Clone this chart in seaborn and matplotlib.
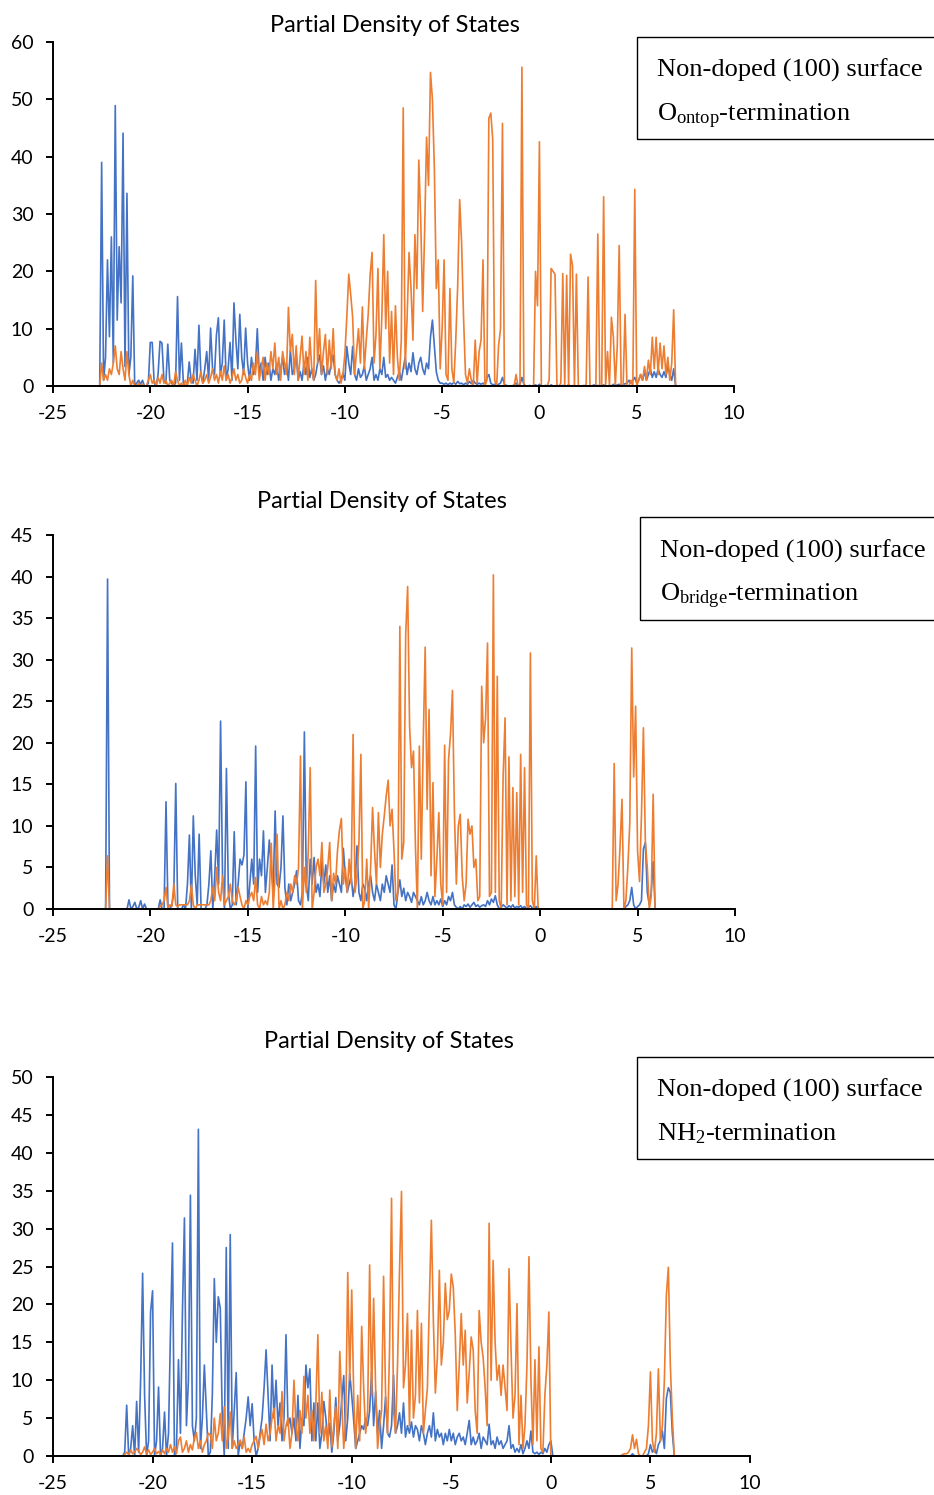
import numpy as np
import pandas as pd
import matplotlib
matplotlib.use("Agg")
import matplotlib.pyplot as plt
from matplotlib.patches import Rectangle
import seaborn as sns

# ---------------------------------------------------------------------------
# Partial density of states, sampled every 0.1 eV from each series' start
# energy.  "blue" and "orange" are the two projected components.
# ---------------------------------------------------------------------------
STEP = 0.1

# Panel 1: non-doped (100) surface, O(ontop) termination
P1_START = -22.6
P1_BLUE = [
    0, 39, 1, 5, 22, 8.6,                                   # -22.6 .. -22.1
    26, 4, 48.9, 11.5, 24.3, 14.5, 44.1, 3.4, 33.6, 2,      # -22.0 ..
    5, 19.2, 0, 0.5, 1, 0.3, 1, 0, 0, 0.5,                  # -21.0 ..
    7.6, 7.6, 0.5, 0, 2, 7.8, 7.5, 1, 0.5, 7.3,             # -20.0 ..
    1, 0.5, 0, 0.5, 15.6, 1, 7.5, 0.5, 0, 0.3,              # -19.0 ..
    4.2, 1, 0.5, 6.4, 1, 10.6, 2, 0.5, 3, 6,                # -18.0 ..
    1, 10.1, 3, 2, 8.9, 11.9, 2, 4, 11.5, 1,                # -17.0 ..
    3, 7.6, 1, 14.5, 8, 3, 12.5, 5, 2, 10.1,                # -16.0 ..
    4, 1, 5, 2, 3, 10, 2, 4, 1, 5,                          # -15.0 ..
    2, 4, 1, 3, 2, 4, 1, 3, 5, 2,                           # -14.0 ..
    4, 1, 6.3, 2, 3, 5.5, 1, 2.5, 1, 4,                     # -13.0 ..
    2, 5, 1.5, 3, 1, 2, 4, 5.4, 2, 3.5,                     # -12.0 ..
    1, 3, 2, 4, 5.4, 2, 1, 0.5, 1, 2.2,                     # -11.0 ..
    1, 6.9, 4, 2, 6.9, 2, 1, 3, 1.5, 2,                     # -10.0 ..
    3.5, 1, 2, 3, 5, 1, 2, 1, 3, 2,                         # -9.0 ..
    5, 1.5, 2, 1, 1.5, 1, 0.5, 1.5, 2.5, 1,                 # -8.0 ..
    3, 5, 2, 4, 2.5, 5.8, 3, 2, 4, 5,                       # -7.0 ..
    3, 2, 4, 3, 8.5, 11.5, 7, 2.5, 1, 0.5,                  # -6.0 ..
    0.5, 0.3, 0.5, 0.2, 0.5, 0.3, 0.6, 0.3, 0.8, 0.4,       # -5.0 ..
    0.5, 0.2, 0.5, 0.3, 0.8, 0.4, 1, 0.5, 0.3, 0.5,         # -4.0 ..
    0.3, 0.5, 0.2, 1.5, 2, 0.5, 0.2, 0.3, 0.1, 0.3,         # -3.0 ..
    0.5, 1.5, 0.3, 0.1, 0, 0, 0, 0.2, 0.5, 0.1,             # -2.0 ..
    0.3, 1.5, 0.3, 0, 0, 0.1, 0, 0, 0.2, 0,                 # -1.0 ..
    0.3, 0, 0, 0.1, 0, 0, 0.2, 0, 0, 0.1,                   # 0.0 ..
    0, 0, 0.1, 0, 0, 0.2, 0, 0, 0.1, 0,                     # 1.0 ..
    0, 0, 0, 0.1, 0, 0, 0, 0, 0.2, 0,                       # 2.0 ..
    0.1, 0, 0, 0.2, 0, 0, 0.1, 0, 0.3, 0,                   # 3.0 ..
    0.2, 0.3, 0, 0.2, 0.4, 0.5, 1, 0.5, 1, 1.5,             # 4.0 ..
    0.5, 1, 2, 1, 2.5, 1, 2, 3, 1.5, 2.5,                   # 5.0 ..
    1.5, 3, 2, 1.5, 2.5, 1.5, 3.5, 2, 1, 3,                 # 6.0 ..
    0,                                                      # 7.0
]
P1_ORANGE = [
    0, 4, 1, 2, 1, 3,                                       # -22.6 .. -22.1
    2, 4, 7, 3, 2, 6, 3, 1, 6, 2,                           # -22.0 ..
    0, 1, 0, 0, 0.5, 0, 0.3, 0, 0, 1,                       # -21.0 ..
    2, 0.5, 1, 0, 1.5, 0.5, 2, 0.5, 1, 0,                   # -20.0 ..
    0.5, 1, 0, 2.5, 1, 0, 0.5, 0, 1, 0,                     # -19.0 ..
    1.5, 0.5, 2, 1, 0, 1, 2.5, 0.5, 1, 2,                   # -18.0 ..
    0.5, 1.5, 3, 1, 2, 0.5, 2.5, 1, 3.5, 1,                 # -17.0 ..
    2, 0.5, 1.5, 3, 1, 2, 0.5, 1, 3, 1.5,                   # -16.0 ..
    0.5, 2, 1, 4, 2, 6, 1, 3, 5, 1,                         # -15.0 ..
    4, 2, 6, 3, 7.5, 2, 5, 1, 6, 4,                         # -14.0 ..
    2, 13.7, 6, 9, 2, 7, 1, 5, 8.7, 2,                      # -13.0 ..
    6, 1, 8.5, 3, 1, 18.4, 4, 10, 2, 6,                     # -12.0 ..
    9, 2, 8, 3, 10, 2, 1, 3, 0.5, 2,                        # -11.0 ..
    5.5, 12, 19.5, 16, 12, 2, 6, 10, 4, 13.8,               # -10.0 ..
    3, 8, 12.5, 19.4, 23.3, 4, 9, 20.5, 3, 12,              # -9.0 ..
    26.4, 10, 20, 4, 13, 2, 14, 5, 1, 8,                    # -8.0 ..
    48.5, 3, 12, 23.3, 17, 8, 26.4, 17, 39.4, 29,           # -7.0 ..
    13, 27, 43.4, 35, 54.7, 50, 38, 17, 22, 3,              # -6.0 ..
    10, 22, 2, 1, 17, 3, 0.5, 8, 17.6, 32.5,                # -5.0 ..
    25, 12, 2, 0.5, 3, 1, 0, 8, 0.5, 6,                     # -4.0 ..
    8, 22, 0, 1, 46.7, 47.6, 43, 1, 0, 7,                   # -3.0 ..
    10, 45.8, 0, 0, 0, 0, 0, 0, 2, 0,                       # -2.0 ..
    0, 55.6, 0, 0, 0, 0, 0, 0, 20, 14,                      # -1.0 ..
    42.6, 0, 0, 0, 0, 1, 20.5, 20, 19.5, 0,                 # 0.0 ..
    0, 0.5, 19.6, 0, 19.3, 0, 23, 21, 0, 19.5,              # 1.0 ..
    0, 0, 0, 0, 0, 19, 0, 0, 0, 0,                          # 2.0 ..
    26.5, 0, 0, 33, 0, 6, 0, 12, 8.5, 0,                    # 3.0 ..
    7, 24.5, 0, 0, 12.5, 0, 0, 1, 0, 34.3,                  # 4.0 ..
    0, 1, 2, 1, 3.4, 1, 4.5, 2, 8.5, 3,                     # 5.0 ..
    8.5, 2, 7.5, 3, 7, 2, 5, 1, 4, 13.3,                    # 6.0 ..
    0,                                                      # 7.0
]

# Panel 2: non-doped (100) surface, O(bridge) termination
P2_START = -22.3
P2_BLUE = [
    0, 39.7, 0,                                             # -22.3 .. -22.1
    0, 0, 0, 0, 0, 0, 0, 0, 0, 1.1,                         # -22.0 ..
    0, 0.3, 0.8, 0, 0.2, 1, 0, 0.6, 0, 0,                   # -21.0 ..
    0, 0, 0, 0, 0, 1.1, 0, 0, 12.9, 0,                      # -20.0 ..
    0, 0.5, 2, 15.1, 0, 0, 0, 0.5, 0, 3,                    # -19.0 ..
    8.9, 0, 11.2, 4, 0.5, 9, 0, 0, 0, 0.5,                  # -18.0 ..
    3, 7, 0, 4, 9.5, 3, 22.6, 4, 0, 16.9,                   # -17.0 ..
    2, 0, 0.5, 9.3, 0.5, 3, 6, 5.3, 6.5, 15.3,              # -16.0 ..
    0, 3, 6, 3, 19.6, 2, 6, 4, 9.4, 2,                      # -15.0 ..
    5, 8.3, 5, 2, 11.8, 3, 2.6, 5, 11.2, 2.6,               # -14.0 ..
    0.5, 3, 1, 2, 3, 4.6, 1, 0.5, 2, 21.3,                  # -13.0 ..
    3, 1, 6, 3, 6.2, 2, 3, 1.5, 5.7, 3,                     # -12.0 ..
    5.3, 2, 4, 1, 3, 2, 4, 3, 2, 7.3,                       # -11.0 ..
    4, 2, 3, 4, 1.5, 3, 7.6, 2, 1, 3,                       # -10.0 ..
    2.5, 1, 3, 4, 2, 1, 3, 2, 1, 3,                         # -9.0 ..
    2, 4, 3, 2, 5.3, 0.5, 0, 2, 3.5, 1.5,                   # -8.0 ..
    2.5, 1, 2, 1.5, 0.8, 2, 1.5, 1, 0.5, 1.5,               # -7.0 ..
    0.5, 1, 2, 1, 0.5, 1.5, 0.5, 1, 0.5, 1.2,               # -6.0 ..
    0.3, 1, 0.5, 1.5, 1, 2, 0.5, 0.2, 0, 0.3,               # -5.0 ..
    0, 0.5, 0.3, 0.6, 0.2, 0.5, 0.8, 0.3, 0.5, 0.2,         # -4.0 ..
    0.4, 0.5, 0.3, 1, 0.5, 1.2, 0.8, 1.6, 0.5, 0,           # -3.0 ..
    0.2, 0.5, 0.3, 0.1, 0.4, 0.2, 0.5, 0.1, 0.3, 0.2,       # -2.0 ..
    0.4, 0.1, 0.3, 0, 0.2, 0.4, 0.1, 0, 0.3, 0.1,           # -1.0 ..
    0, 0, 0, 0, 0, 0, 0, 0, 0, 0,                           # 0.0 ..
    0, 0, 0, 0, 0, 0, 0, 0, 0, 0,                           # 1.0 ..
    0, 0, 0, 0, 0, 0, 0, 0, 0, 0,                           # 2.0 ..
    0, 0, 0, 0, 0, 0, 0, 0, 0, 0,                           # 3.0 ..
    0, 0, 0, 0, 0.3, 0.5, 1, 2.6, 0.5, 0,                   # 4.0 ..
    0.3, 0.5, 1, 7.2, 8, 2, 0.5, 2, 5.7, 0,                 # 5.0 .. 5.9
]
P2_ORANGE = [
    0, 6.4, 0,                                              # -22.3 .. -22.1
    0, 0, 0, 0, 0, 0, 0, 0, 0, 0,                           # -22.0 ..
    0, 0, 0, 0, 0, 0, 0, 0, 0, 0,                           # -21.0 ..
    0, 0, 0, 0, 0, 0.3, 0.5, 1, 2.6, 0,                     # -20.0 ..
    0.5, 0.3, 3, 0.5, 0.3, 0.5, 0.5, 0.5, 0.5, 0.5,         # -19.0 ..
    1, 2.9, 0.5, 0, 0.5, 0.5, 0.5, 0.5, 0.5, 0.5,           # -18.0 ..
    0.5, 1, 2.6, 1, 5, 2, 1, 4, 0.5, 1,                     # -17.0 ..
    1.5, 3, 1, 0.5, 1, 2.6, 1.5, 0.5, 0, 1,                 # -16.0 ..
    0.5, 1.5, 2, 1, 3.8, 0.5, 0, 1.5, 0.5, 1,               # -15.0 ..
    0.5, 2, 7.9, 0, 4, 9, 0, 1, 0, 0.5,                     # -14.0 ..
    2, 1, 3, 2, 4, 3, 5, 18.4, 0, 5,                        # -13.0 ..
    2, 7, 17, 0, 2, 5, 6, 4, 8, 2,                          # -12.0 ..
    3, 5, 8, 1, 4.3, 3, 7, 9.5, 10.9, 3,                    # -11.0 ..
    5, 2, 6, 3, 21, 2, 4, 8, 18.6, 0,                       # -10.0 ..
    1, 6, 0, 5, 12.2, 7, 3, 11.6, 5, 9,                     # -9.0 ..
    11.2, 13.6, 15.5, 10, 12, 7, 1, 2, 34, 6,               # -8.0 ..
    8, 33, 38.8, 22, 17, 19, 7.6, 0, 19.6, 6,               # -7.0 ..
    20, 31.5, 12, 24, 4, 15.2, 1.5, 6, 11.6, 3,             # -6.0 ..
    0.5, 19.7, 2, 18, 21, 26.3, 11.6, 3, 10, 11.4,          # -5.0 ..
    4, 1, 3, 10.8, 9, 10, 5, 6, 1, 1.5,                     # -4.0 ..
    26.8, 20, 23, 32, 1.5, 2, 40.2, 2, 28, 1,               # -3.0 ..
    0, 16, 23, 0.5, 18.3, 1, 14.6, 1.5, 14, 0.5,            # -2.0 ..
    18.6, 2, 17, 0.5, 0, 30.8, 1, 0, 6.4, 0,                # -1.0 ..
    0, 0, 0, 0, 0, 0, 0, 0, 0, 0,                           # 0.0 ..
    0, 0, 0, 0, 0, 0, 0, 0, 0, 0,                           # 1.0 ..
    0, 0, 0, 0, 0, 0, 0, 0, 0, 0,                           # 2.0 ..
    0, 0, 0, 0, 0, 0, 0, 0, 17.5, 1,                        # 3.0 ..
    3, 7.5, 13.2, 0, 1, 5, 10.3, 31.4, 15.9, 24.4,          # 4.0 ..
    7, 3.3, 11.3, 21.8, 8, 5, 0, 1.5, 13.8, 0,              # 5.0 .. 5.9
]

# Panel 3: non-doped (100) surface, NH2 termination
P3_START = -21.5
P3_BLUE = [
    0, 0.5, 6.7, 0, 1,                                      # -21.5 .. -21.1
    4, 0, 7.2, 0.5, 10, 24.1, 8, 0, 2, 19,                  # -21.0 ..
    21.8, 0, 2, 9.1, 0, 1, 5.8, 0, 3, 16.6,                 # -20.0 ..
    28.1, 0, 1, 12.7, 3, 19, 31.4, 4, 10, 34.4,             # -19.0 ..
    4, 2, 5, 43.1, 1, 5, 12, 6, 0, 0.5,                     # -18.0 ..
    8, 23.4, 15, 21, 19.5, 5, 0, 27.5, 1, 29.2,             # -17.0 ..
    1, 6, 11, 0, 2, 1, 3, 5, 7.8, 4,                        # -16.0 ..
    6.9, 2, 0, 1, 3, 5, 9, 14, 8, 2,                        # -15.0 ..
    12, 5, 10, 4, 7, 2, 5, 16, 4, 5,                        # -14.0 ..
    3, 5, 2, 8, 1, 5, 4, 12, 9, 11.5,                       # -13.0 ..
    2, 7, 2, 7, 1, 3, 7.2, 5, 2, 4.3,                       # -12.0 ..
    0.5, 3, 7.7, 2, 4, 7.4, 10.6, 2, 5, 10.9,               # -11.0 ..
    8, 4.7, 1, 2, 3, 4, 3.5, 5, 4, 6,                       # -10.0 ..
    11.1, 4, 8.5, 3, 6, 1, 4, 7.8, 3, 2.5,                  # -9.0 ..
    4, 10.7, 3, 4, 5.7, 3, 7, 2.5, 4, 3,                    # -8.0 ..
    4.5, 2.5, 4, 3.5, 2, 4, 3, 1.5, 3, 4,                   # -7.0 ..
    2.5, 5.7, 2, 3.5, 2.5, 3, 1.5, 3, 2, 3.5,               # -6.0 ..
    2, 3, 1.5, 2.5, 3, 2, 2.5, 1.5, 3, 4.7,                 # -5.0 ..
    1.5, 2.5, 1.5, 2, 3, 1, 2.5, 2, 1.5, 4.2,               # -4.0 ..
    1.5, 2, 1, 2.5, 1.5, 2, 1, 1.5, 2, 4,                   # -3.0 ..
    1, 1.5, 0.5, 1, 0.5, 1.5, 0.3, 1, 2, 1,                 # -2.0 ..
    3.3, 0.5, 0.3, 0.5, 0.2, 0.5, 0.3, 1, 0.5, 1.5,         # -1.0 ..
    2, 0, 0, 0, 0, 0, 0, 0, 0, 0,                           # 0.0 ..
    0, 0, 0, 0, 0, 0, 0, 0, 0, 0,                           # 1.0 ..
    0, 0, 0, 0, 0, 0, 0, 0, 0, 0,                           # 2.0 ..
    0, 0, 0, 0, 0, 0, 0, 0, 0, 0,                           # 3.0 ..
    0, 0.3, 0, 0, 0, 0, 0, 0, 0, 0.3,                       # 4.0 ..
    1.5, 0.5, 1, 0.3, 1.5, 2, 3.3, 1, 7.6, 9,               # 5.0 ..
    8.4, 3, 0,                                              # 6.0 .. 6.2
]
P3_ORANGE = [
    0, 0.2, 0.5, 0.2, 0.8,                                  # -21.5 .. -21.1
    0.3, 0.5, 1, 0.7, 0.2, 0.5, 1.2, 0.3, 0.8, 0.2,         # -21.0 ..
    0.5, 1, 0.3, 0.6, 0.2, 0.8, 0.3, 1, 0.5, 1.5,           # -20.0 ..
    0.5, 1.2, 0.3, 2, 2.5, 0.5, 1, 2, 0.5, 1.5,             # -19.0 ..
    0.8, 2.4, 3.1, 1, 2, 0.5, 1.5, 2, 3, 2.8,               # -18.0 ..
    1, 5, 2, 3, 5.6, 2, 6.5, 1, 2.5, 5.8,                   # -17.0 ..
    1, 2, 1, 1.5, 2.1, 1, 2.5, 0.5, 1, 0.5,                 # -16.0 ..
    1.5, 2, 2.6, 1, 2.5, 3.5, 1.5, 4.2, 2, 3,               # -15.0 ..
    5, 6.3, 2, 4, 3, 8.5, 2, 4, 5, 1,                       # -14.0 ..
    3, 10, 4, 2, 6, 3, 10.5, 5, 8, 3,                       # -13.0 ..
    6, 2, 7, 16, 3, 8.4, 2, 4, 1, 8.7,                      # -12.0 ..
    1.2, 4, 6.5, 1, 13.8, 7, 1, 5, 24.2, 10,                # -11.0 ..
    21.9, 8, 1, 8, 2, 17.1, 9, 3, 6, 25.2,                  # -10.0 ..
    8, 20.8, 9, 1, 4, 6, 23.7, 8, 3, 14,                    # -9.0 ..
    34, 6, 3, 12, 24.5, 34.9, 9, 12, 18.8, 4,               # -8.0 ..
    16.6, 5, 8, 19.2, 7, 17.5, 3, 6, 9, 20.6,               # -7.0 ..
    31.1, 17.9, 8.3, 13, 24.5, 12, 15, 22.8, 18, 19.2,      # -6.0 ..
    24, 22.3, 16, 6, 12, 18.8, 12, 16.6, 7, 11,             # -5.0 ..
    15.7, 14, 6, 3, 19.2, 15, 13, 9, 4, 30.7,               # -4.0 ..
    10, 25.8, 15, 10, 12, 8, 12, 9, 6, 24.7,                # -3.0 ..
    14, 5, 8, 20.1, 1.5, 8, 1, 4, 12, 26.3,                 # -2.0 ..
    10, 1.5, 12.7, 2, 14.4, 1, 0.5, 8, 12, 19,              # -1.0 ..
    0, 0, 0, 0, 0, 0, 0, 0, 0, 0,                           # 0.0 ..
    0, 0, 0, 0, 0, 0, 0, 0, 0, 0,                           # 1.0 ..
    0, 0, 0, 0, 0, 0, 0, 0, 0, 0,                           # 2.0 ..
    0, 0, 0, 0, 0, 0, 0.2, 0.3, 0.3, 0.5,                   # 3.0 ..
    1, 2.8, 1, 2.2, 0.3, 0, 0, 0.5, 1, 4,                   # 4.0 ..
    11.1, 2, 0.5, 3, 11.5, 2, 4, 10, 21.2, 24.9,            # 5.0 ..
    12, 5, 0,                                               # 6.0 .. 6.2
]

TITLE = "Partial Density of States"
BOX_LINE1 = "Non-doped (100) surface"
BOX_LINE2 = [
    r"O$_{\mathrm{ontop}}$-termination",
    r"O$_{\mathrm{bridge}}$-termination",
    r"NH$_{\mathrm{2}}$-termination",
]
X_TICKS = [-25, -20, -15, -10, -5, 0, 5, 10]
Y_MAX = [60, 45, 50]
Y_STEP = [10, 5, 5]

BLUE = "#4472C4"
ORANGE = "#ED7D31"

# ---------------------------------------------------------------------------
sns.set_style("ticks")
plt.rcParams["font.family"] = ["Lato", "DejaVu Sans"]
plt.rcParams["axes.unicode_minus"] = False
plt.rcParams["mathtext.fontset"] = "custom"
plt.rcParams["mathtext.rm"] = "Liberation Serif"
plt.rcParams["mathtext.it"] = "Liberation Serif:italic"
plt.rcParams["mathtext.bf"] = "Liberation Serif:bold"

W, H = 934, 1495
fig = plt.figure(figsize=(W / 100, H / 100), dpi=100)


def frame(px_left, px_top, px_right, px_bottom):
    return [px_left / W, 1 - px_bottom / H, (px_right - px_left) / W,
            (px_bottom - px_top) / H]


def panel_frame(start, blue, orange):
    e_blue = start + STEP * np.arange(len(blue))
    e_orange = start + STEP * np.arange(len(orange))
    return pd.concat([
        pd.DataFrame({"energy": e_blue, "pdos": blue, "part": "blue"}),
        pd.DataFrame({"energy": e_orange, "pdos": orange, "part": "orange"}),
    ], ignore_index=True)


panels = [
    dict(data=panel_frame(P1_START, P1_BLUE, P1_ORANGE),
         axes=(53, 42, 734, 386), title=(395, 25),
         box=(637, 37, 139), text_x=657, text_base=(77, 121)),
    dict(data=panel_frame(P2_START, P2_BLUE, P2_ORANGE),
         axes=(53, 535, 735, 909), title=(382, 501),
         box=(640, 517, 620), text_x=660, text_base=(558, 601)),
    dict(data=panel_frame(P3_START, P3_BLUE, P3_ORANGE),
         axes=(53, 1077, 750, 1456), title=(389, 1042),
         box=(637, 1057, 1159), text_x=657, text_base=(1097, 1140)),
]

for i, p in enumerate(panels):
    ax = fig.add_axes(frame(*p["axes"]))
    sns.lineplot(data=p["data"], x="energy", y="pdos", hue="part",
                 hue_order=["blue", "orange"],
                 palette={"blue": BLUE, "orange": ORANGE},
                 estimator=None, sort=False, linewidth=1.2,
                 legend=False, ax=ax)
    ax.set_xlim(-25, 10)
    ax.set_ylim(0, Y_MAX[i])
    ax.set_xticks(X_TICKS)
    ax.set_yticks(np.arange(0, Y_MAX[i] + 1, Y_STEP[i]))
    ax.set_xlabel("")
    ax.set_ylabel("")
    for side in ("top", "right"):
        ax.spines[side].set_visible(False)
    for side in ("left", "bottom"):
        ax.spines[side].set_color("#000000")
        ax.spines[side].set_linewidth(1.4)
    ax.tick_params(direction="out", length=5, width=1.4, colors="#000000",
                   labelsize=14, pad=9)
    ax.patch.set_alpha(0)

    tx, ty = p["title"]
    fig.text(tx / W, 1 - ty / H, TITLE, ha="center", va="center",
             fontsize=17, color="#000000")

    bx, btop, bbot = p["box"]
    fig.add_artist(Rectangle((bx / W, 1 - bbot / H), (W + 10 - bx) / W,
                             (bbot - btop) / H, transform=fig.transFigure,
                             fill=False, edgecolor="#000000", linewidth=1.0,
                             clip_on=False))
    fig.text(p["text_x"] / W, 1 - p["text_base"][0] / H, BOX_LINE1,
             ha="left", va="baseline", fontsize=19,
             family="Liberation Serif", color="#000000")
    fig.text(p["text_x"] / W, 1 - p["text_base"][1] / H, BOX_LINE2[i],
             ha="left", va="baseline", fontsize=19,
             family="Liberation Serif", color="#000000")

fig.savefig("out.png", dpi=100, facecolor="white")
